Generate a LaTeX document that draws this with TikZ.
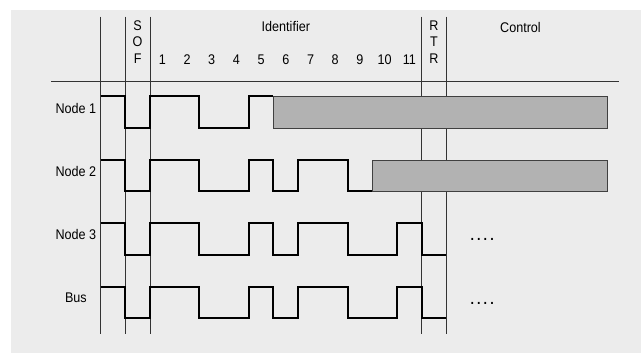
\documentclass[tikz,border=0pt]{standalone}
\usepackage{fontspec}
\setmainfont{Liberation Sans}[FakeStretch=0.9]

\tikzset{
  signal/.style={line width=2pt, line join=miter},
  gridline/.style={line width=0.8pt, black!80},
  stopbox/.style={draw=black!75, line width=0.8pt, fill=black!30},
  hdr/.style={font=\fontsize{14}{16.5}\selectfont, inner sep=0pt, align=center},
  dots/.style={font=\fontsize{14}{16.5}\selectfont\bfseries\addfontfeature{LetterSpace=22}, inner sep=0pt, anchor=base},
}

\begin{document}
\begin{tikzpicture}[x=24.7pt, y=-1pt]
    \useasboundingbox (-6.073,0) rectangle (19.879,353);
    \fill[black!7.5] (-5.628,10) rectangle (19.879,353);

    % header
    \draw[gridline] (-4,81) -- (19,81);
    \foreach \x in {-2,-1,0,11,12}
        \draw[gridline] (\x,16.7) -- (\x,334);

    \node[hdr] (sof) at (-0.5,42) {S\\O\\F};
    \node[hdr] (ident) at (5.5,26) {Identifier};
    \foreach \n in {1,...,11}
        \node[hdr] (bit\n) at (\n-0.5,60) {\n};
    \node[hdr] (rtr) at (11.5,42) {R\\T\\R};
    \node[hdr] (ctrl) at (15,27) {Control};

    % row labels
    \node[hdr] (node1) at (-3,108) {Node 1};
    \node[hdr] (node2) at (-3,171) {Node 2};
    \node[hdr] (node3) at (-3,234) {Node 3};
    \node[hdr] (bus) at (-3,298) {Bus};

    % node 1 stops sending after bit 5
    \draw[stopbox] (5,96.5) rectangle (18.5,128);
    \draw[signal] (-2,96.5) -- (-1,96.5) |- (0,128) |- (2,96.5) |- (4,128) |- (5,96.5);

    % node 2 stops sending after bit 9
    \draw[stopbox] (9,160) rectangle (18.5,191.5);
    \draw[signal] (-2,160) -- (-1,160) |- (0,191.5) |- (2,160) |- (4,191.5) |- (5,160)
        |- (6,191.5) |- (8,160) |- (9,191.5);

    % node 3 wins
    \draw[signal] (-2,223.5) -- (-1,223.5) |- (0,255) |- (2,223.5) |- (4,255) |- (5,223.5)
        |- (6,255) |- (8,223.5) |- (10,255) |- (11,223.5) |- (12,255);
    \node[dots] (more3) at (13.45,241) {....};

    % bus
    \draw[signal] (-2,287) -- (-1,287) |- (0,318.5) |- (2,287) |- (4,318.5) |- (5,287)
        |- (6,318.5) |- (8,287) |- (10,318.5) |- (11,287) |- (12,318.5);
    \node[dots] (morebus) at (13.45,305) {....};
\end{tikzpicture}
\end{document}
